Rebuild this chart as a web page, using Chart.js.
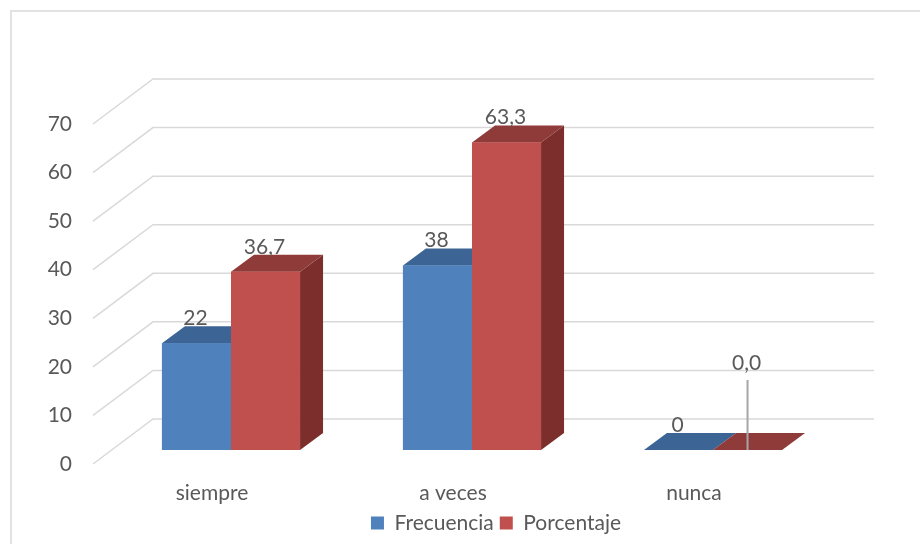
<!DOCTYPE html>
<html>
<head>
<meta charset="utf-8">
<script src="https://cdn.jsdelivr.net/npm/chart.js@4/dist/chart.umd.min.js"></script>
<style>
  html, body { margin: 0; padding: 0; background: #fff; }
  canvas { display: block; }
</style>
</head>
<body>
<canvas id="chart" width="920" height="544"></canvas>
<script>
const categories = ["siempre", "a veces", "nunca"];
const frecuencia = [22, 38, 0];
const porcentaje = [36.7, 63.3, 0.0];
const yMin = 0, yMax = 70, yStep = 10;

const textColor = "#595959";
const font = { family: "Lato", size: 21 };

// fake 3D: depth offset of the bars and of the back wall
const depth = { dx: 23, dy: -17 };

const bars3d = {
  id: "bars3d",
  beforeDraw(chart) {
    const ctx = chart.ctx;
    ctx.save();
    ctx.strokeStyle = "#e2e2e2";
    ctx.lineWidth = 2;
    ctx.strokeRect(11, 11, 940, 600);
    ctx.restore();
  },
  beforeDatasetsDraw(chart) {
    const ctx = chart.ctx, y = chart.scales.y, area = chart.chartArea;
    ctx.save();
    ctx.strokeStyle = "#d9d9d9";
    ctx.lineWidth = 1.5;
    y.ticks.forEach(t => {
      const py = y.getPixelForValue(t.value);
      ctx.beginPath();
      ctx.moveTo(area.left - 17.5, py + 14);
      ctx.lineTo(area.left + 42.5, py - 31);
      ctx.lineTo(area.right + 40.5, py - 31);
      ctx.stroke();
    });
    ctx.restore();
  },
  afterDatasetsDraw(chart) {
    const ctx = chart.ctx;
    const sets = chart.data.datasets;
    ctx.save();
    // painter's order, left to right
    categories.forEach((c, i) => {
      sets.forEach((ds, d) => {
        const el = chart.getDatasetMeta(d).data[i];
        const { x, y, base, width } = el.getProps(["x", "y", "base", "width"], true);
        const l = x - width / 2, r = x + width / 2;
        ctx.fillStyle = ds.sideColor;
        ctx.beginPath();
        ctx.moveTo(r, y); ctx.lineTo(r + depth.dx, y + depth.dy);
        ctx.lineTo(r + depth.dx, base + depth.dy); ctx.lineTo(r, base);
        ctx.closePath(); ctx.fill();
        ctx.fillStyle = ds.topColor;
        ctx.beginPath();
        ctx.moveTo(l, y); ctx.lineTo(l + depth.dx, y + depth.dy);
        ctx.lineTo(r + depth.dx, y + depth.dy); ctx.lineTo(r, y);
        ctx.closePath(); ctx.fill();
        ctx.fillStyle = ds.backgroundColor;
        ctx.fillRect(l, y, width, base - y);
      });
    });
    // value labels
    ctx.font = font.size + "px " + font.family;
    ctx.textAlign = "center";
    ctx.textBaseline = "middle";
    sets.forEach((ds, d) => {
      chart.getDatasetMeta(d).data.forEach((el, i) => {
        const v = ds.data[i];
        const txt = v.toFixed(ds.decimals).replace(".", ",");
        let ly = el.y - 25;
        const moved = ds.movedLabel && ds.movedLabel.index === i;
        if (moved) {
          ly = el.y + ds.movedLabel.dy;
          ctx.strokeStyle = "#a6a6a6";
          ctx.lineWidth = 2;
          ctx.beginPath();
          ctx.moveTo(el.x, ly + 17);
          ctx.lineTo(el.x, el.base);
          ctx.stroke();
        }
        ctx.fillStyle = textColor;
        ctx.fillText(txt, el.x - 1, ly);
      });
    });
    ctx.restore();
  },
  afterLayout(chart) {
    // Excel legend sits a bit right of centre
    const lg = chart.legend;
    const shift = 496 - (lg.left + lg.right) / 2;
    lg.left += shift;
    lg.right += shift;
  }
};

new Chart(document.getElementById("chart"), {
  type: "bar",
  data: {
    labels: categories,
    datasets: [
      { label: "Frecuencia", data: frecuencia, decimals: 0,
        backgroundColor: "#4F81BD", topColor: "#3C6494", sideColor: "#2F5079" },
      { label: "Porcentaje", data: porcentaje, decimals: 1,
        backgroundColor: "#C0504D", topColor: "#8F3B39", sideColor: "#7B2E2C",
        movedLabel: { index: 2, dy: -87 } }
    ]
  },
  options: {
    responsive: false,
    animation: false,
    categoryPercentage: 0.573,
    barPercentage: 1,
    layout: { padding: { top: 110, left: 0, right: 86.5, bottom: 0.5 } },
    scales: {
      x: {
        grid: { display: false, drawTicks: false },
        border: { display: false },
        ticks: { color: textColor, font: font, padding: 30.5, labelOffset: -19 },
        afterFit: s => { s.height = 56.5; }
      },
      y: {
        min: yMin, max: yMax,
        grid: { display: false, drawTicks: false },
        border: { display: false },
        ticks: { stepSize: yStep, color: textColor, font: font, padding: 38.5, labelOffset: 14 },
        afterFit: s => { s.width = 110.5; }
      }
    },
    plugins: {
      legend: {
        position: "bottom",
        labels: { boxWidth: 13, boxHeight: 13, padding: 6, color: textColor, font: font }
      },
      tooltip: { enabled: false }
    }
  },
  plugins: [bars3d]
});
</script>
</body>
</html>
